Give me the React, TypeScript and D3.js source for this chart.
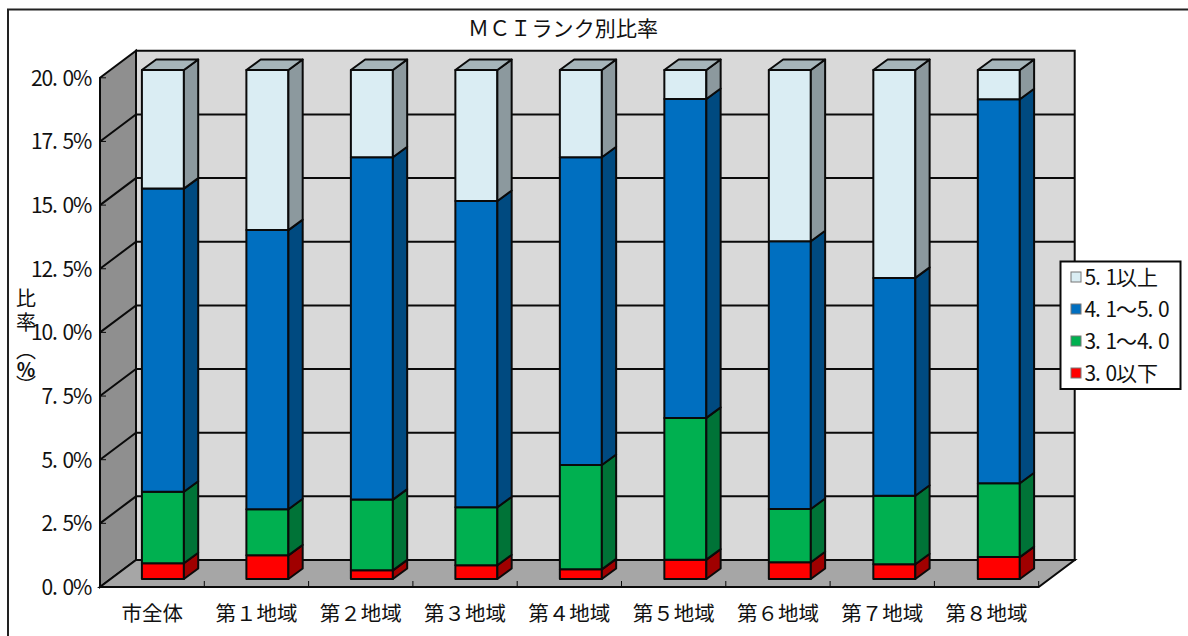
import React from "react";
import * as d3 from "d3";

const categories = ["市全体", "第１地域", "第２地域", "第３地域", "第４地域", "第５地域", "第６地域", "第７地域", "第８地域"];
const under30 = [0.62, 0.93, 0.34, 0.54, 0.38, 0.76, 0.66, 0.58, 0.86];
const from31to40 = [2.81, 1.81, 2.78, 2.28, 4.1, 5.57, 2.09, 2.69, 2.9];
const from41to50 = [11.91, 10.97, 13.45, 12.03, 12.09, 12.53, 10.52, 8.56, 15.09];
const over51 = [4.66, 6.29, 3.43, 5.15, 3.43, 1.14, 6.73, 8.17, 1.15];
const yTicks = [0, 2.5, 5, 7.5, 10, 12.5, 15, 17.5, 20];
const seriesNames = ["3.0以下", "3.1～4.0", "4.1～5.0", "5.1以上"];
const seriesFront = ["#ff0000", "#00b050", "#006fc0", "#daedf3"];
const seriesSide = ["#a00000", "#007337", "#004a80", "#8c999e"];
const topFace = "#a6b5ba";
const axisTitle = ["比", "率", "（", "％", "）"];
const axisTitleY = [298, 322, 350, 370, 385];

const LINE = "#0a0a0a";
const SW = 2;
const JP = "'Noto Sans CJK JP', sans-serif";

const DX = 36;
const DY = 27;
const x0 = 100;
const x1 = 1038.7;
const yFront = d3.scaleLinear().domain([0, 20]).range([587, 77.8]);
const yBack = d3.scaleLinear().domain([0, 20]).range([587 - DY, 77.8 - DY]);
const yBar = d3.scaleLinear().domain([0, 20]).range([579, 70]);
const xBand = d3.scaleBand<string>().domain(categories).range([x0, x1]);
const BAR_W = 42;
const BAR_DX = 14.3;
const BAR_DY = 10.5;
const barBand = d3.scaleBand<string>().domain(categories).range([110.65, 110.65 + 9 * 104.49]);

const rows = categories.map((c, i) => ({
  c,
  [seriesNames[0]]: under30[i],
  [seriesNames[1]]: from31to40[i],
  [seriesNames[2]]: from41to50[i],
  [seriesNames[3]]: over51[i],
}));
const stacked = d3.stack<any>().keys(seriesNames)(rows);

const poly = (pts: number[][]) => d3.line()(pts as [number, number][]) + "Z";

function cellXs(s: string, start: number, cell: number) {
  const xs: number[] = [];
  let x = start;
  for (const ch of s) {
    xs.push(+x.toFixed(1));
    x += /[ -~]/.test(ch) ? cell : cell * 2;
  }
  return xs.join(" ");
}

export default function App() {
  const fmt = d3.format(".1f");
  return (
    <svg width={1188} height={636} style={{ position: "absolute", left: 0, top: 0, display: "block", background: "#fff" }}>
      <path d="M8,636 L8,9.5 L1188,9.5" fill="none" stroke="#222" strokeWidth={2} />
      <text x={563} y={36} textAnchor="middle" fontFamily={JP} fontSize={21} textLength={190} lengthAdjust="spacing" fill="#111">
        ＭＣＩランク別比率
      </text>

      {/* walls */}
      <path d={poly([[x0 + DX, yBack(20)], [x1 + DX, yBack(20)], [x1 + DX, yBack(0)], [x0 + DX, yBack(0)]])} fill="#d9d9d9" stroke={LINE} strokeWidth={SW} />
      <path d={poly([[x0, yFront(20)], [x0 + DX, yBack(20)], [x0 + DX, yBack(0)], [x0, yFront(0)]])} fill="#8f8f8f" stroke={LINE} strokeWidth={SW} />
      <path d={poly([[x0, yFront(0)], [x0 + DX, yBack(0)], [x1 + DX, yBack(0)], [x1, yFront(0)]])} fill="#a6a6a6" stroke="none" />
      <path d={`M${x0 + DX},${yBack(0)} L${x1 + DX},${yBack(0)} L${x1},${yFront(0)} L${x0},${yFront(0)} Z`} fill="none" stroke={LINE} strokeWidth={SW} />

      {/* gridlines */}
      {yTicks.slice(1, -1).map((t) => (
        <path key={t} d={`M${x0},${yFront(t)} L${x0 + DX},${yBack(t)} L${x1 + DX},${yBack(t)}`} fill="none" stroke={LINE} strokeWidth={SW} />
      ))}
      {yTicks.map((t) => (
        <line key={t} x1={x0} x2={x0 + 6} y1={yFront(t)} y2={yFront(t)} stroke={LINE} strokeWidth={1} />
      ))}
      {categories.map((c) => (
        <line key={c} x1={(xBand(c) as number) + xBand.bandwidth()} x2={(xBand(c) as number) + xBand.bandwidth()} y1={581} y2={587} stroke={LINE} strokeWidth={1} />
      ))}

      {/* bars */}
      {categories.map((c, i) => {
        const left = (barBand(c) as number) + (barBand.bandwidth() - BAR_W) / 2;
        const right = left + BAR_W;
        return (
          <g key={c} stroke={LINE} strokeWidth={SW} strokeLinejoin="round">
            {stacked.map((s, k) => {
              const yb = yBar(s[i][0]);
              const yt = yBar(s[i][1]);
              return (
                <g key={s.key}>
                  <rect x={left} y={yt} width={BAR_W} height={yb - yt} fill={seriesFront[k]} />
                  <path d={poly([[right, yt], [right + BAR_DX, yt - BAR_DY], [right + BAR_DX, yb - BAR_DY], [right, yb]])} fill={seriesSide[k]} />
                </g>
              );
            })}
            <path d={poly([[left, yBar(20)], [left + BAR_DX, yBar(20) - BAR_DY], [right + BAR_DX, yBar(20) - BAR_DY], [right, yBar(20)]])} fill={topFace} />
          </g>
        );
      })}

      {/* axis labels */}
      {yTicks.map((t) => {
        const s = fmt(t) + "%";
        const cell = 10.5;
        return (
          <text key={t} x={cellXs(s, 83.5 - s.length * cell, cell)} y={yFront(t) + 8} fontFamily={JP} fontSize={21} fill="#111">
            {s}
          </text>
        );
      })}
      {categories.map((c) => (
        <text key={c} x={(xBand(c) as number) + xBand.bandwidth() / 2} y={621} textAnchor="middle" fontFamily={JP} fontSize={20.5} fill="#111">
          {c}
        </text>
      ))}
      {axisTitle.map((ch, i) => (
        <text key={ch} x={26} y={axisTitleY[i]} textAnchor="middle" dominantBaseline="central" fontFamily={JP} fontSize={i === 3 ? 19 : 20} fontWeight={i === 3 ? 700 : 400} fill="#111" style={{ writingMode: "vertical-rl" as any }}>
          {ch}
        </text>
      ))}

      {/* legend */}
      <rect x={1060.5} y={261.5} width={120} height={127.5} fill="#fff" stroke={LINE} strokeWidth={2} />
      {[3, 2, 1, 0].map((k, row) => {
        const cy = d3.scaleLinear().domain([0, 3]).range([277, 373])(row);
        return (
          <g key={k}>
            <rect x={1071} y={cy - 5} width={10} height={10} fill={seriesFront[k]} stroke="#777" strokeWidth={1} />
            <text x={cellXs(seriesNames[k], 1084.5, 10.5)} y={cy + 8} fontFamily={JP} fontSize={21} fill="#111">
              {seriesNames[k]}
            </text>
          </g>
        );
      })}
    </svg>
  );
}
